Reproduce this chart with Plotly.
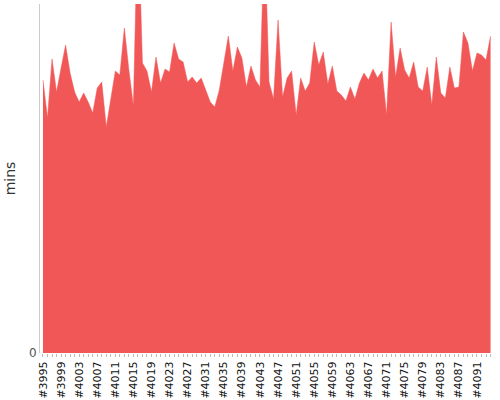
import plotly.graph_objects as go

builds = [f"#{n}" for n in range(3995, 4095)]
mins = [
    27.3, 23.5, 29.4, 26.1, 28.5, 30.8, 28.0, 26.1, 25.1, 26.0,
    25.1, 24.0, 26.5, 27.1, 22.6, 25.5, 28.2, 27.8, 32.5, 28.3,
    24.7, 44.6, 29.0, 28.2, 26.1, 29.6, 27.0, 28.4, 28.1, 31.0,
    29.4, 29.1, 27.1, 27.6, 27.0, 27.5, 26.2, 25.1, 24.6, 26.3,
    29.0, 31.7, 28.2, 30.6, 29.5, 26.6, 28.7, 27.3, 26.6, 42.5,
    27.1, 25.4, 33.3, 25.6, 27.5, 28.2, 23.8, 27.5, 26.2, 27.0,
    31.1, 28.8, 30.1, 26.9, 28.7, 26.2, 25.8, 25.2, 26.6, 25.4,
    27.0, 28.0, 27.3, 28.4, 27.5, 28.2, 23.8, 33.1, 27.6, 30.5,
    28.3, 27.5, 29.1, 26.6, 26.2, 28.6, 24.8, 29.6, 26.0, 25.5,
    28.6, 26.5, 26.6, 32.1, 31.0, 28.2, 30.0, 29.8, 29.3, 31.7,
]
label_every = 4
tick_text = [b if i % label_every == 0 else "" for i, b in enumerate(builds)]

fig = go.Figure(
    go.Scatter(
        x=builds,
        y=mins,
        mode="lines",
        fill="tozeroy",
        fillcolor="#f25757",
        line=dict(color="#f25757", width=0.5),
        hoverinfo="skip",
    )
)

fig.update_layout(
    width=500,
    height=400,
    margin=dict(l=40, r=9, t=4, b=47, autoexpand=False),
    plot_bgcolor="white",
    paper_bgcolor="white",
    showlegend=False,
    font=dict(family="DejaVu Sans", color="#222"),
)

fig.update_xaxes(
    type="category",
    range=[-0.66, 99.1],
    tickmode="array",
    tickvals=builds,
    ticktext=tick_text,
    tickangle=-90,
    ticks="outside",
    ticklen=3,
    tickcolor="#bbb",
    tickfont=dict(size=11, color="#111"),
    showline=False,
    showgrid=False,
    zeroline=False,
    automargin=False,
)

fig.update_yaxes(
    range=[0, 34.9],
    tickmode="array",
    tickvals=[0],
    ticktext=["0"],
    ticks="",
    tickfont=dict(size=12, color="#555"),
    showline=True,
    linecolor="#ccc",
    linewidth=1,
    showgrid=False,
    zeroline=False,
    automargin=False,
    title=dict(text="mins", font=dict(size=14, color="#333"), standoff=10),
)

fig.write_html(
    "out.html",
    config={"displayModeBar": False, "staticPlot": True},
    post_script="document.body.style.margin='0';document.body.style.overflow='hidden';",
)
